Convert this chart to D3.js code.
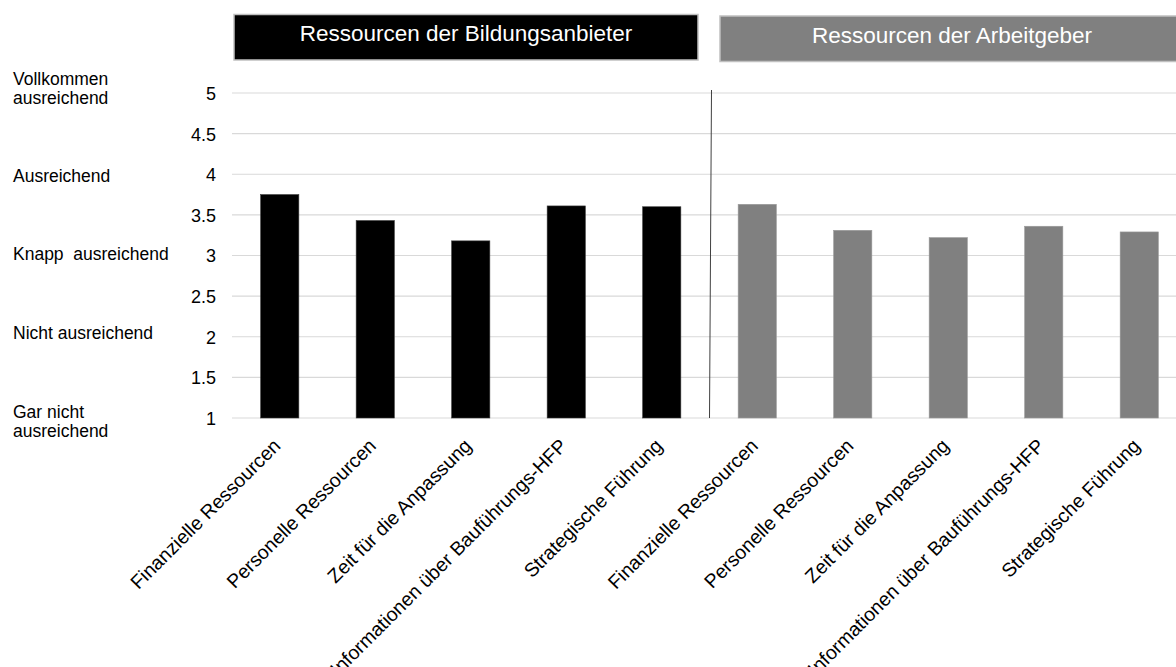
<!DOCTYPE html>
<html>
<head>
<meta charset="utf-8">
<script src="https://cdn.jsdelivr.net/npm/d3@7"></script>
<style>
  html, body { margin: 0; padding: 0; background: #fff; }
  svg { display: block; font-family: "Liberation Sans", Arial, sans-serif; }
</style>
</head>
<body>
<svg id="chart" width="1176" height="667"></svg>
<script>
// Categories (repeated for each group) and mean ratings per group
const categories = [
  "Finanzielle Ressourcen",
  "Personelle Ressourcen",
  "Zeit für die Anpassung",
  "Informationen über Bauführungs-HFP",
  "Strategische Führung"
];
const groupTitles = ["Ressourcen der Bildungsanbieter", "Ressourcen der Arbeitgeber"];
const bildungsanbieterValues = [3.75, 3.43, 3.18, 3.61, 3.60];
const arbeitgeberValues = [3.63, 3.31, 3.22, 3.36, 3.29];
const yTickValues = [1, 1.5, 2, 2.5, 3, 3.5, 4, 4.5, 5];
const scaleValues = [5, 4, 3, 2, 1];
const scaleTexts = [
  ["Vollkommen", "ausreichend"],
  ["Ausreichend"],
  ["Knapp  ausreichend"],
  ["Nicht ausreichend"],
  ["Gar nicht", "ausreichend"]
];

const svg = d3.select("#chart");
const groupColors = ["#000000", "#808080"];

// one entry per bar: both groups side by side
const rows = [];
[bildungsanbieterValues, arbeitgeberValues].forEach((vals, g) => {
  vals.forEach((v, i) => rows.push({ key: g + "-" + i, group: g, label: categories[i], value: v }));
});

const x = d3.scaleBand()
  .domain(rows.map(d => d.key))
  .range([232, 1187])
  .paddingInner(0.6)
  .paddingOuter(0.3);

const y = d3.scaleLinear().domain([1, 5]).range([418, 93]);

// horizontal grid lines
svg.append("g")
  .selectAll("line")
  .data(yTickValues)
  .join("line")
  .attr("x1", 232).attr("x2", 1176)
  .attr("y1", d => y(d)).attr("y2", d => y(d))
  .attr("stroke", "#d9d9d9")
  .attr("stroke-width", 1.2);

// y axis numbers
const yAxis = d3.axisLeft(y).tickValues(yTickValues).tickSize(0).tickPadding(0)
  .tickFormat(d3.format("~g"));
const yg = svg.append("g").attr("transform", "translate(216,0)").call(yAxis);
yg.select(".domain").remove();
yg.selectAll("text")
  .attr("font-family", "'Liberation Sans', Arial, sans-serif")
  .attr("font-size", 18)
  .attr("fill", "#000")
  .attr("dy", "0.36em");

// verbal scale labels on the far left
const nudges = [-8.5, 7.7, 4.8, 1.8, -0.5];
const scaleG = svg.append("g");
scaleValues.forEach((v, i) => {
  const lines = scaleTexts[i];
  const t = scaleG.append("text")
    .attr("x", 13)
    .attr("font-size", 17.5)
    .attr("fill", "#000")
    .attr("xml:space", "preserve")
    .style("white-space", "pre");
  const base = y(v) + nudges[i];
  lines.forEach((ln, k) => {
    t.append("tspan").attr("x", 13).attr("y", base + k * 19.5).text(ln);
  });
});

// bars
svg.append("g")
  .selectAll("rect")
  .data(rows)
  .join("rect")
  .attr("x", d => x(d.key))
  .attr("width", x.bandwidth())
  .attr("y", d => y(d.value))
  .attr("height", d => y(1) - y(d.value))
  .attr("fill", d => groupColors[d.group])
  .attr("stroke", d => d.group === 0 ? "#3a3a3a" : "#9a9a9a")
  .attr("stroke-width", 0.6);

// separator between the two groups
const step = x.step();
const sepX = x(rows[4].key) + x.bandwidth() + (x(rows[5].key) - x(rows[4].key) - x.bandwidth()) / 2;
svg.append("line")
  .attr("x1", sepX + 2).attr("y1", 90)
  .attr("x2", sepX).attr("y2", y(1))
  .attr("stroke", "#404040")
  .attr("stroke-width", 1);

// group title boxes
const groupStarts = [x(rows[0].key) - x.paddingOuter() * step, sepX];
const boxOffsets = [2, 10.5];
const boxTops = [14.5, 16];
groupTitles.forEach((title, g) => {
  const bx = groupStarts[g] + boxOffsets[g];
  const bw = 464;
  svg.append("rect")
    .attr("x", bx).attr("y", boxTops[g])
    .attr("width", bw).attr("height", 45.5)
    .attr("fill", groupColors[g])
    .attr("stroke", "#c0c0c0")
    .attr("stroke-width", 1.5);
  svg.append("text")
    .attr("x", bx + bw / 2)
    .attr("y", boxTops[g] + 26.5)
    .attr("text-anchor", "middle")
    .attr("font-size", 22.5)
    .attr("fill", "#ffffff")
    .text(title);
});

// rotated category labels
svg.append("g")
  .selectAll("text")
  .data(rows)
  .join("text")
  .attr("transform", d => `translate(${x(d.key) + x.bandwidth() / 2 + 2},447) rotate(-45)`)
  .attr("text-anchor", "end")
  .attr("font-size", 19.5)
  .attr("fill", "#000")
  .text(d => d.label);
</script>
</body>
</html>
